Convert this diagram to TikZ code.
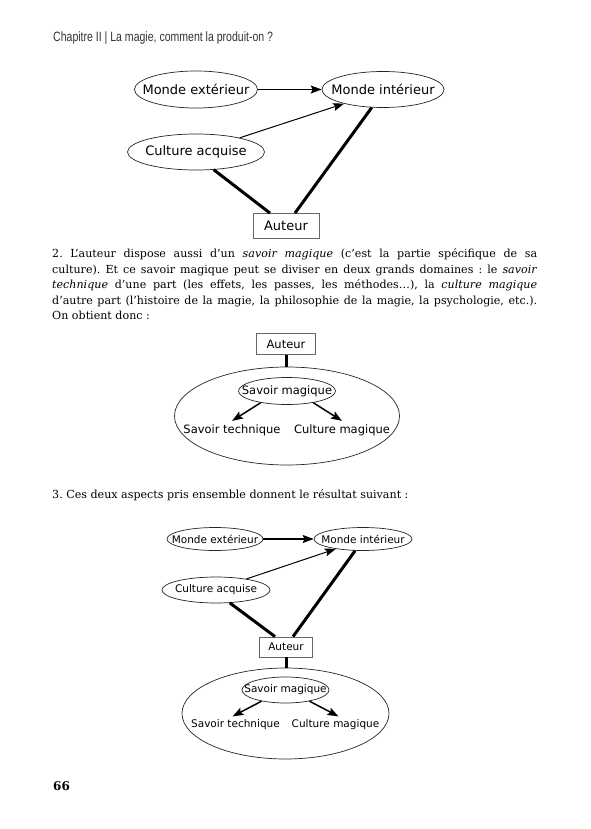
\documentclass[tikz,border=0pt]{standalone}
\usepackage{fontspec}
\setmainfont{DejaVu Serif}
\newfontfamily\diagfont{DejaVu Sans}
\newfontfamily\headfont[FakeStretch=0.78]{Liberation Sans}
\usetikzlibrary{shapes.geometric,arrows.meta}
\frenchspacing
\newcommand\plat[1]{\makebox[0pt]{#1}}
\tikzset{
	bulle/.style={ellipse, draw=black!85, line width=0.7pt, inner sep=0pt},
	cadre/.style={rectangle, draw=black!60, line width=0.8pt, inner sep=0pt},
	fleche/.style={-{Stealth[length=11pt,width=8pt,inset=2pt]}},
	lien/.style={line width=3pt},
}
\begin{document}
\begin{tikzpicture}[x=1pt,y=-1pt]
	\useasboundingbox[fill=white] (0,0) rectangle (590,829);
	\node[anchor=base west, inner sep=0pt, text=black!80, font=\headfont\fontsize{13.5}{15}\selectfont] (tete) at (53,42) {Chapitre II | La magie, comment la produit-on ?};

	\begin{scope}[every node/.append style={font=\diagfont\fontsize{13}{15}\selectfont}]
	\node[bulle, minimum width=123pt, minimum height=37pt] (me1) at (196,89.5) {\plat{Monde extérieur}};
	\node[bulle, minimum width=122pt, minimum height=36pt] (mi1) at (383,89.5) {\plat{Monde intérieur}};
	\node[bulle, minimum width=137pt, minimum height=36pt] (ca1) at (196,152) {\plat{Culture acquise}};
	\node[cadre, minimum width=66pt, minimum height=25pt] (au1) at (286,226) {Auteur};
	\draw[fleche, line width=0.7pt](me1.east)--(mi1.west) ;
	\draw[fleche, line width=1pt](ca1.18)--(mi1.200) ;
	\draw[lien](ca1.-45)--([xshift=-16pt]au1.north) ;
	\draw[lien](mi1.238)--([xshift=9pt]au1.north) ;
	\end{scope}

	\node[anchor=north west, inner sep=0pt, text width=485pt, align=justify, font=\fontsize{11.1}{15.5}\selectfont] (para2) at (52,248.5) {2. L’auteur dispose aussi d’un \textit{savoir magique} (c’est la partie spécifique de sa\linebreak culture). Et ce savoir magique peut se diviser en deux grands domaines : le \textit{savoir}\linebreak \textit{technique} d’une part (les effets, les passes, les méthodes…), la \textit{culture magique}\linebreak d’autre part (l’histoire de la magie, la philosophie de la magie, la psychologie, etc.).\linebreak On obtient donc :};

	\begin{scope}[every node/.append style={font=\diagfont\fontsize{11.5}{13}\selectfont}]
	\node[cadre, minimum width=59pt, minimum height=21pt] (au2) at (286,344) {Auteur};
	\node[bulle, minimum width=225pt, minimum height=98pt] (gr2) at (287,416) {};
	\node[bulle, minimum width=97pt, minimum height=27pt] (sm2) at (287,391) {\plat{Savoir magique}};
	\node (st2) at (232,430) {Savoir technique};
	\node (cm2) at (342,430) {Culture magique};
	\draw[lien](au2.south)--(au2.south |- gr2.north) ;
	\draw[fleche, line width=1.5pt](sm2.204)--(st2.north) ;
	\draw[fleche, line width=1.5pt](sm2.-24)--(cm2.north) ;
	\end{scope}

	\node[anchor=base west, inner sep=0pt, font=\fontsize{11.1}{15.5}\selectfont] (para3) at (52,498) {3. Ces deux aspects pris ensemble donnent le résultat suivant :};

	\begin{scope}[every node/.append style={font=\diagfont\fontsize{10.5}{12}\selectfont}]
	\node[bulle, minimum width=96pt, minimum height=23pt] (me3) at (215,539) {\plat{Monde extérieur}};
	\node[bulle, minimum width=98pt, minimum height=23pt] (mi3) at (363,539) {\plat{Monde intérieur}};
	\node[bulle, minimum width=108pt, minimum height=26pt] (ca3) at (216,590) {\plat{Culture acquise}};
	\node[cadre, minimum width=53pt, minimum height=20pt] (au3) at (286,647) {Auteur};
	\node[bulle, minimum width=207pt, minimum height=91pt] (gr3) at (285.5,713.5) {};
	\node[bulle, minimum width=87pt, minimum height=26pt] (sm3) at (285.5,690) {\plat{Savoir magique}};
	\node (st3) at (235.5,725) {Savoir technique};
	\node (cm3) at (335.5,725) {Culture magique};
	\draw[fleche, line width=1.3pt](me3.east)--(mi3.west) ;
	\draw[fleche, line width=1pt](ca3.20)--(mi3.200) ;
	\draw[lien](ca3.-43)--([xshift=-11pt]au3.north) ;
	\draw[lien](mi3.236)--([xshift=7pt]au3.north) ;
	\draw[lien](au3.south)--(au3.south |- gr3.north) ;
	\draw[fleche, line width=1.5pt](sm3.205)--([xshift=-3pt]st3.north) ;
	\draw[fleche, line width=1.5pt](sm3.-25)--([xshift=3pt]cm3.north) ;
	\end{scope}

	\node[anchor=base west, inner sep=0pt, font=\bfseries\fontsize{12}{14}\selectfont] (folio) at (53,790) {66};
\end{tikzpicture}
\end{document}
